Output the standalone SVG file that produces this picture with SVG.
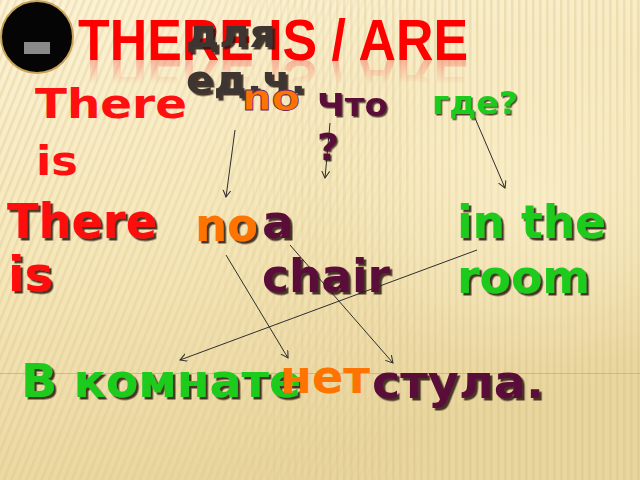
<svg xmlns="http://www.w3.org/2000/svg" width="640" height="480" viewBox="0 0 640 480">
<defs>
<linearGradient id="bg" x1="0" y1="0" x2="0.3" y2="1">
<stop offset="0" stop-color="#fcf3d6"/>
<stop offset="0.5" stop-color="#f6e8bc"/>
<stop offset="1" stop-color="#e9d59e"/>
</linearGradient>
<radialGradient id="glow" cx="0.85" cy="0.42" r="0.35">
<stop offset="0" stop-color="#fff6d8" stop-opacity="0.5"/>
<stop offset="1" stop-color="#fff6d8" stop-opacity="0"/>
</radialGradient>
<pattern id="diag" width="7" height="20" patternUnits="userSpaceOnUse" patternTransform="rotate(22)">
<rect x="0" y="0" width="2.5" height="20" fill="#d9c184" opacity="0.35"/>
</pattern>
<pattern id="vert" width="7" height="20" patternUnits="userSpaceOnUse">
<rect x="0" y="0" width="2.5" height="20" fill="#d6bd7e" opacity="0.3"/>
</pattern>
<linearGradient id="fadeL" x1="0" y1="0" x2="1" y2="0">
<stop offset="0" stop-color="#fff" stop-opacity="1"/>
<stop offset="0.45" stop-color="#fff" stop-opacity="0.6"/>
<stop offset="0.7" stop-color="#fff" stop-opacity="0"/>
</linearGradient>
<linearGradient id="fadeR" x1="0" y1="0" x2="1" y2="0">
<stop offset="0.3" stop-color="#fff" stop-opacity="0"/>
<stop offset="0.6" stop-color="#fff" stop-opacity="1"/>
</linearGradient>
<mask id="mL"><rect width="640" height="480" fill="url(#fadeL)"/></mask>
<mask id="mR"><rect width="640" height="480" fill="url(#fadeR)"/></mask>
<linearGradient id="refl" x1="0" y1="0" x2="0" y2="1">
<stop offset="0" stop-color="#fff" stop-opacity="0.3"/>
<stop offset="0.6" stop-color="#fff" stop-opacity="0"/>
</linearGradient>
<mask id="mRefl"><rect x="60" y="60" width="440" height="40" fill="url(#refl)"/></mask>
<filter id="sh" x="-10%" y="-10%" width="130%" height="140%">
<feDropShadow dx="2.5" dy="2.5" stdDeviation="0.4" flood-color="#2a1608" flood-opacity="0.85"/>
</filter>
<filter id="shs" x="-10%" y="-10%" width="130%" height="140%">
<feDropShadow dx="1.5" dy="1.5" stdDeviation="0.3" flood-color="#2a1608" flood-opacity="0.8"/>
</filter>
<marker id="arr" markerWidth="10" markerHeight="10" refX="7" refY="4" orient="auto" markerUnits="userSpaceOnUse">
<path d="M0,0 L7,4 L0,8" fill="none" stroke="#2a2a2a" stroke-width="1"/>
</marker>
</defs>
<style>
.t{font-family:"DejaVu Sans","Verdana",sans-serif;font-weight:bold}
.red{fill:#ff1010}
.grn{fill:#1ecb1e}
.pur{fill:#5a0838}
.org{fill:#ff7300}
.gry{fill:#3c3430}
.ln{stroke:#2e2e2e;stroke-width:1;fill:none;marker-end:url(#arr)}
</style>
<rect width="640" height="480" fill="url(#bg)"/>
<rect width="640" height="480" fill="url(#diag)" mask="url(#mL)"/>
<rect width="640" height="480" fill="url(#vert)" mask="url(#mR)"/>
<rect width="640" height="480" fill="url(#glow)"/>
<line x1="0" y1="373.5" x2="640" y2="373.5" stroke="#f2a040" stroke-width="1" opacity="0.7"/>

<g id="badge">
<circle cx="37" cy="37" r="36" fill="#050505" stroke="#c9a25a" stroke-width="2"/>
<rect x="24" y="42" width="26" height="12" fill="#8a8a8a"/>
</g>

<g id="title">
<text x="78" y="60" font-family="Liberation Sans, Arial, sans-serif" font-weight="bold" font-size="57" fill="#ff0000" textLength="390" lengthAdjust="spacingAndGlyphs">THERE IS / ARE</text>
<g mask="url(#mRefl)" aria-hidden="true">
<text transform="translate(0,120) scale(1,-1)" x="78" y="60" font-family="Liberation Sans, Arial, sans-serif" font-weight="bold" font-size="57" fill="#ff3030" textLength="390" lengthAdjust="spacingAndGlyphs">THERE IS / ARE</text>
</g>
</g>

<g id="connectors">
<line class="ln" x1="235" y1="130" x2="226" y2="197"/>
<line class="ln" x1="330" y1="123" x2="325" y2="178"/>
<line class="ln" x1="475" y1="118" x2="505" y2="188"/>
<line class="ln" x1="226" y1="255" x2="288" y2="358"/>
<line class="ln" x1="290" y1="245" x2="393" y2="363"/>
<line class="ln" x1="477" y1="250" x2="180" y2="360"/>
</g>

<g id="label-there-is-top">
<text class="t red" x="35" y="118" font-size="40" textLength="152" lengthAdjust="spacingAndGlyphs">There</text>
<text class="t red" x="36" y="175" font-size="40" textLength="42" lengthAdjust="spacingAndGlyphs">is</text>
</g>
<g id="label-dlya" filter="url(#sh)">
<text class="t gry" x="186" y="47" font-size="38" textLength="90" lengthAdjust="spacingAndGlyphs">для</text>
<text class="t gry" x="186" y="93" font-size="38" textLength="120" lengthAdjust="spacingAndGlyphs">ед.ч.</text>
</g>
<g id="label-no-top">
<text class="t org" x="242" y="110" font-size="36" stroke="#6a2a60" stroke-width="0.8" textLength="58" lengthAdjust="spacingAndGlyphs">no</text>
</g>
<g id="label-chto" filter="url(#shs)">
<text class="t pur" x="317" y="116" font-size="32" textLength="71" lengthAdjust="spacingAndGlyphs">Что</text>
<text class="t pur" x="317" y="160" font-size="38">?</text>
</g>
<g id="label-gde" filter="url(#shs)">
<text class="t grn" x="432" y="114" font-size="32" textLength="86" lengthAdjust="spacingAndGlyphs">где?</text>
</g>

<g id="node-there-is" filter="url(#sh)">
<text class="t red" x="7" y="238" font-size="48" textLength="150" lengthAdjust="spacingAndGlyphs">There</text>
<text class="t red" x="8" y="291" font-size="48">is</text>
</g>
<g id="node-no" filter="url(#sh)">
<text class="t org" x="195" y="241" font-size="47" textLength="63" lengthAdjust="spacingAndGlyphs">no</text>
</g>
<g id="node-a-chair" filter="url(#sh)">
<text class="t pur" x="262" y="238" font-size="47">a</text>
<text class="t pur" x="262" y="292" font-size="47" textLength="128" lengthAdjust="spacingAndGlyphs">chair</text>
</g>
<g id="node-in-the-room" filter="url(#sh)">
<text class="t grn" x="457" y="238" font-size="47" textLength="149" lengthAdjust="spacingAndGlyphs">in the</text>
<text class="t grn" x="457" y="293" font-size="47" textLength="133" lengthAdjust="spacingAndGlyphs">room</text>
</g>

<g id="node-v-komnate" filter="url(#sh)">
<text class="t grn" x="21" y="397" font-size="46" textLength="280" lengthAdjust="spacingAndGlyphs">В комнате</text>
</g>
<g id="node-net">
<text class="t org" x="280" y="393" font-size="46" textLength="90" lengthAdjust="spacingAndGlyphs">нет</text>
</g>
<g id="node-stula" filter="url(#sh)">
<text class="t pur" x="372" y="398" font-size="46" textLength="172" lengthAdjust="spacingAndGlyphs">стула.</text>
</g>
</svg>
